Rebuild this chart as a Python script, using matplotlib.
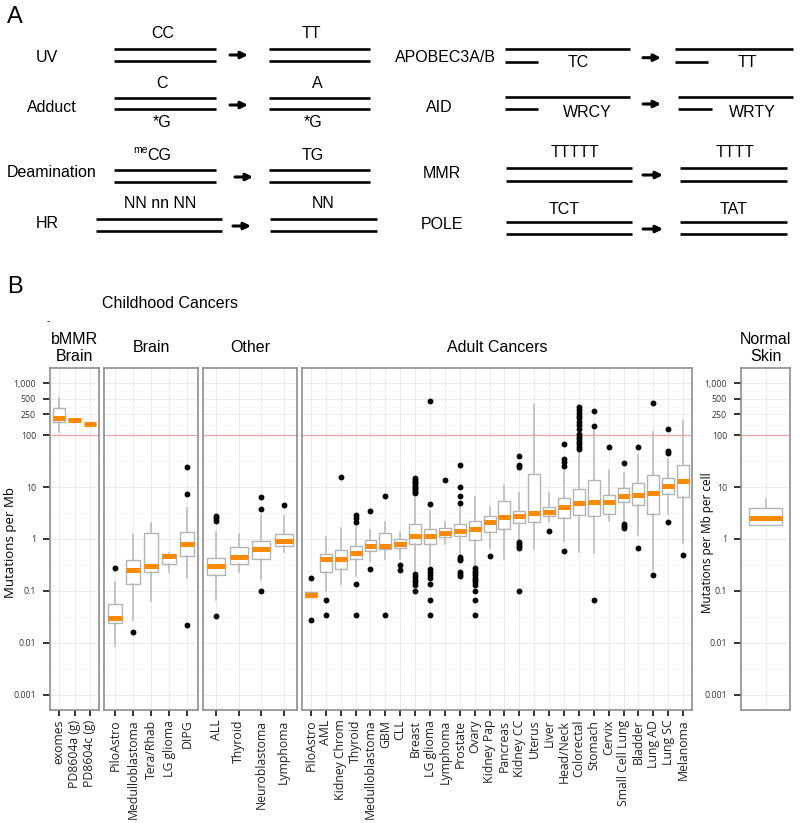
import matplotlib.pyplot as plt
import numpy as np
from matplotlib.ticker import FixedLocator, NullFormatter

plt.rcParams['font.family'] = ['Open Sans', 'DejaVu Sans']

# ---- panel B data: box statistics (mutations per Mb) ----
labels = ['exomes', 'PD8604a (g)', 'PD8604c (g)',
          'PiloAstro', 'Medulloblastoma', 'Tera/Rhab', 'LG glioma', 'DIPG',
          'ALL', 'Thyroid', 'Neuroblastoma', 'Lymphoma',
          'PiloAstro', 'AML', 'Kidney Chrom', 'Thyroid', 'Medulloblastoma', 'GBM',
          'CLL', 'Breast', 'LG glioma', 'Lymphoma', 'Prostate', 'Ovary',
          'Kidney Pap', 'Pancreas', 'Kidney CC', 'Uterus', 'Liver', 'Head/Neck',
          'Colorectal', 'Stomach', 'Cervix', 'Small Cell Lung', 'Bladder',
          'Lung AD', 'Lung SC', 'Melanoma',
          '']
q1 = [180, 191, 166,
      0.024, 0.134, 0.232, 0.33, 0.47,
      0.20, 0.33, 0.41, 0.72,
      0.076, 0.23, 0.27, 0.41, 0.59, 0.64, 0.67, 0.81, 0.80, 1.08, 1.14, 0.96,
      1.36, 1.53, 2.0, 2.09, 2.77, 2.57, 2.85, 2.73, 2.98, 5.2, 4.45, 3.0, 7.2, 6.4,
      1.9]
med = [209, 191, 166,
       0.030, 0.253, 0.30, 0.47, 0.79,
       0.30, 0.46, 0.64, 0.90,
       0.084, 0.41, 0.41, 0.546, 0.72, 0.73, 0.79, 1.14, 1.12, 1.29, 1.45, 1.55,
       2.1, 2.6, 2.73, 3.2, 3.36, 4.2, 5.0, 5.1, 5.1, 6.6, 7.1, 7.8, 10.3, 12.8,
       2.57]
q3 = [335, 191, 166,
      0.0555, 0.394, 1.30, 0.51, 1.38,
      0.44, 0.69, 0.90, 1.27,
      0.095, 0.51, 0.605, 0.745, 0.94, 1.29, 1.0, 1.94, 1.58, 1.63, 1.97, 2.19,
      2.73, 5.4, 3.45, 17.5, 4.2, 6.2, 9.2, 13.4, 6.9, 9.4, 12, 17, 14.7, 27,
      3.9]
whis_lo = [116, 191, 166,
           0.0089, 0.028, 0.065, 0.235, 0.18,
           0.067, 0.235, 0.16, 0.55,
           0.076, 0.10, 0.134, 0.19, 0.37, 0.42, 0.42, 0.24, 0.32, 0.81, 0.49, 0.29,
           0.68, 0.41, 0.93, 0.64, 2.15, 0.92, 0.57, 0.53, 2.25, 2.2, 1.19, 0.25, 2.98, 0.83,
           1.9]
whis_hi = [510, 191, 166,
           0.151, 1.23, 2.03, 0.53, 4.0,
           1.38, 1.23, 2.9, 2.77,
           0.095, 1.11, 1.6, 1.86, 1.49, 2.15, 1.34, 6.1, 3.4, 2.14, 4.5, 6.4,
           4.2, 10.9, 7.6, 395, 7.8, 22.9, 51, 124, 21, 19, 42, 116, 35, 186,
           5.8]
fliers = [[], [], [],
          [0.277], [0.0163], [], [], [24, 7.5, 0.022],
          [2.8, 2.5, 2.25, 0.033], [], [6.4, 3.7, 0.1], [4.6],
          [0.178, 0.028],
          [0.066, 0.034],
          [15.6],
          [2.9, 2.5, 2.15, 0.136, 0.034],
          [3.4, 0.27],
          [6.7, 0.034],
          [0.32, 0.25],
          [14.7, 13.6, 12.7, 11.8, 10.9, 10.1, 9.4, 8.8, 8.1, 7.6,
           0.21, 0.186, 0.165, 0.147, 0.13, 0.10],
          [450, 4.8, 0.27, 0.23, 0.20, 0.174, 0.136, 0.067, 0.034],
          [13.7],
          [27, 10.1, 6.8, 5.0, 0.45, 0.42, 0.39, 0.23, 0.21, 0.195],
          [0.273, 0.246, 0.222, 0.2, 0.18, 0.163, 0.147, 0.13, 0.1, 0.067, 0.034],
          [0.47],
          [],
          [40, 27, 24.6, 0.89, 0.80, 0.73, 0.66, 0.1],
          [],
          [1.4],
          [68, 34, 30, 25, 0.58],
          [351, 302, 261, 235, 209, 180, 155, 130, 107, 93, 84, 74, 66, 60, 54],
          [290, 151, 0.067],
          [58],
          [29.5, 1.95, 1.8, 1.6],
          [58, 0.68],
          [420, 0.2],
          [130, 49, 45, 2.15],
          [0.5],
          []]
group_titles = ['bMMR\nBrain', 'Brain', 'Other', 'Adult Cancers', 'Normal\nSkin']
group_sizes = [3, 5, 4, 26, 1]

ytick_vals = [0.001, 0.01, 0.1, 1, 10, 100, 250, 500, 1000]
ytick_text = ['0.001', '0.01', '0.1', '1', '10', '100', '250', '500', '1,000']

# ---- panel A data ----
mech_left = ['UV', 'Adduct', 'Deamination', 'HR']
before_left = ['CC', 'C', 'CG', 'NN nn NN']
after_left = ['TT', 'A', 'TG', 'NN']
mech_right = ['APOBEC3A/B', 'AID', 'MMR', 'POLE']
before_right = ['TC', 'WRCY', 'TTTTT', 'TCT']
after_right = ['TT', 'WRTY', 'TTTT', 'TAT']

W, H = 800, 823
fig = plt.figure(figsize=(W / 100, H / 100), dpi=100)
SANS = 'Liberation Sans'

# ---------------- panel A ----------------
axA = fig.add_axes([0, 0, 1, 1])
axA.set_xlim(0, W)
axA.set_ylim(H, 0)
axA.axis('off')


def strand(x0, x1, y):
    axA.plot([x0, x1], [y, y], color='black', lw=1.9, solid_capstyle='butt')


def arrow(x0, x1, y):
    axA.annotate('', xy=(x1, y), xytext=(x0, y),
                 arrowprops=dict(arrowstyle='-|>', lw=2.2, color='black',
                                 mutation_scale=10, shrinkA=0, shrinkB=0))


def atext(x, y, s, size=11.5, **kw):
    axA.text(x, y, s, ha='center', va='center', fontsize=size, family=SANS, **kw)


# left column
rows_l = [(49, 60.7, 114, 216, 269, 370, 230, 248, 55, 47, 57, 33),
          (98.3, 109.3, 114, 216, 269, 370, 230, 248, 105, 52, 107, 83),
          (170, 181.7, 114, 216, 269, 370, 235, 253, 177, 52, 172, 155),
          (219.3, 231, 96, 222, 270, 377, 233, 251, 226, 47, 223, 203)]
bx_l = [163, 162, 159, 160]
ax_l = [311, 317, 313, 323]
for i, (ya, yb, b0, b1, a0, a1, r0, r1, ry, lx, ly, ty) in enumerate(rows_l):
    strand(b0, b1, ya)
    strand(b0, b1, yb)
    strand(a0, a1, ya)
    strand(a0, a1, yb)
    arrow(r0, r1, ry)
    atext(lx, ly, mech_left[i])
    atext(bx_l[i], ty, before_left[i])
    atext(ax_l[i], ty, after_left[i])
atext(162, 122, '*G')
atext(313, 122, '*G')
atext(141, 150, 'me', size=7.5)

# right column
rows_r = [(49.3, 61.7, 505, 630, 538, 675, 793, 708, 643, 661, 57.7, 445, 57),
          (97, 109, 505, 630, 538, 678, 793, 712, 643, 661, 104, 439, 107),
          (168, 181, 506, 632, None, 680, 787, None, 643, 663, 175, 442, 173),
          (222, 234.3, 506, 632, None, 680, 787, None, 643, 663, 229, 442, 224)]
txt_r = [(578, 747, 62), (587, 752, 112), (575, 735, 152), (564, 734, 209)]
for i, (ya, yb, b0, b1, bs, a0, a1, as_, r0, r1, ry, lx, ly) in enumerate(rows_r):
    strand(b0, b1, ya)
    strand(a0, a1, ya)
    strand(b0, bs if bs else b1, yb)
    strand(a0, as_ if as_ else a1, yb)
    arrow(r0, r1, ry)
    atext(lx, ly, mech_right[i])
    atext(txt_r[i][0], txt_r[i][2], before_right[i])
    atext(txt_r[i][1], txt_r[i][2], after_right[i])

atext(15, 17, 'A', size=17)
atext(15, 287, 'B', size=17)
atext(170, 304, 'Childhood Cancers', size=11.5)
atext(48, 321, '-', size=7)

# ---------------- panel B ----------------
panel_x = [(50, 99), (104, 198), (203, 297), (302, 692), (741, 790)]
top_px, bot_px = 368, 710
ylo, yhi = 10 ** -3.29, 10 ** 3.29
lmaj = np.log10(ytick_vals)
minors = 10 ** ((lmaj[:-1] + lmaj[1:]) / 2)

start = 0
for g, (n, title) in enumerate(zip(group_sizes, group_titles)):
    x0, x1 = panel_x[g]
    ax = fig.add_axes([x0 / W, 1 - bot_px / H, (x1 - x0) / W, (bot_px - top_px) / H])
    idx = range(start, start + n)
    stats = [dict(med=med[i], q1=q1[i], q3=q3[i], whislo=whis_lo[i],
                  whishi=whis_hi[i], fliers=fliers[i]) for i in idx]
    pos = np.arange(1, n + 1)
    ax.bxp(stats, positions=pos, widths=0.8, patch_artist=True, showcaps=False,
           boxprops=dict(facecolor='white', edgecolor='#b3b3b3', lw=1.0),
           whiskerprops=dict(color='#b8b8b8', lw=1.1),
           medianprops=dict(color='#FF8A00', lw=3.6, solid_capstyle='butt'),
           flierprops=dict(marker='o', markerfacecolor='black',
                           markeredgecolor='black', markersize=3.2))
    ax.set_yscale('log')
    ax.set_ylim(ylo, yhi)
    ax.set_xlim(0.4, n + 0.6)
    ax.axhline(100, color='#f4a0a0', lw=0.9, zorder=1.5)
    ax.set_yticks(ytick_vals)
    ax.yaxis.set_minor_locator(FixedLocator(minors))
    ax.yaxis.set_minor_formatter(NullFormatter())
    ax.set_axisbelow(True)
    ax.grid(True, which='major', color='#ebebeb', lw=0.7)
    ax.grid(True, which='minor', axis='y', color='#f5f5f5', lw=0.6)
    ax.tick_params(which='minor', length=0)
    for sp in ax.spines.values():
        sp.set_color('#8e8e8e')
        sp.set_linewidth(1.2)
    ax.set_xticks(pos)
    if g == 4:
        ax.tick_params(axis='x', length=0, labelbottom=False)
    else:
        ax.set_xticklabels([labels[i] for i in idx], rotation=90, fontsize=8.8,
                           color='#222222')
        ax.tick_params(axis='x', length=4, width=1.4, color='#333333', pad=3)
    if g in (0, 4):
        ax.set_yticklabels(ytick_text, fontsize=6.3, color='#333333')
        ax.tick_params(axis='y', length=5, width=1.4, color='#333333', pad=5)
    else:
        ax.tick_params(axis='y', left=False, labelleft=False)
    yc = 348 if '\n' in title else 347
    fig.text((x0 + x1) / 2 / W, 1 - yc / H, title, ha='center', va='center',
             fontsize=11.5, family=SANS, linespacing=1.1)
    start += n

fig.text(11 / W, 1 - 543 / H, 'Mutations per Mb', rotation=90, ha='center',
         va='center', fontsize=9.5)
fig.text(707 / W, 1 - 543 / H, 'Mutations per Mb per cell', rotation=90,
         ha='center', va='center', fontsize=8.5)

fig.savefig('out.png', dpi=100)
